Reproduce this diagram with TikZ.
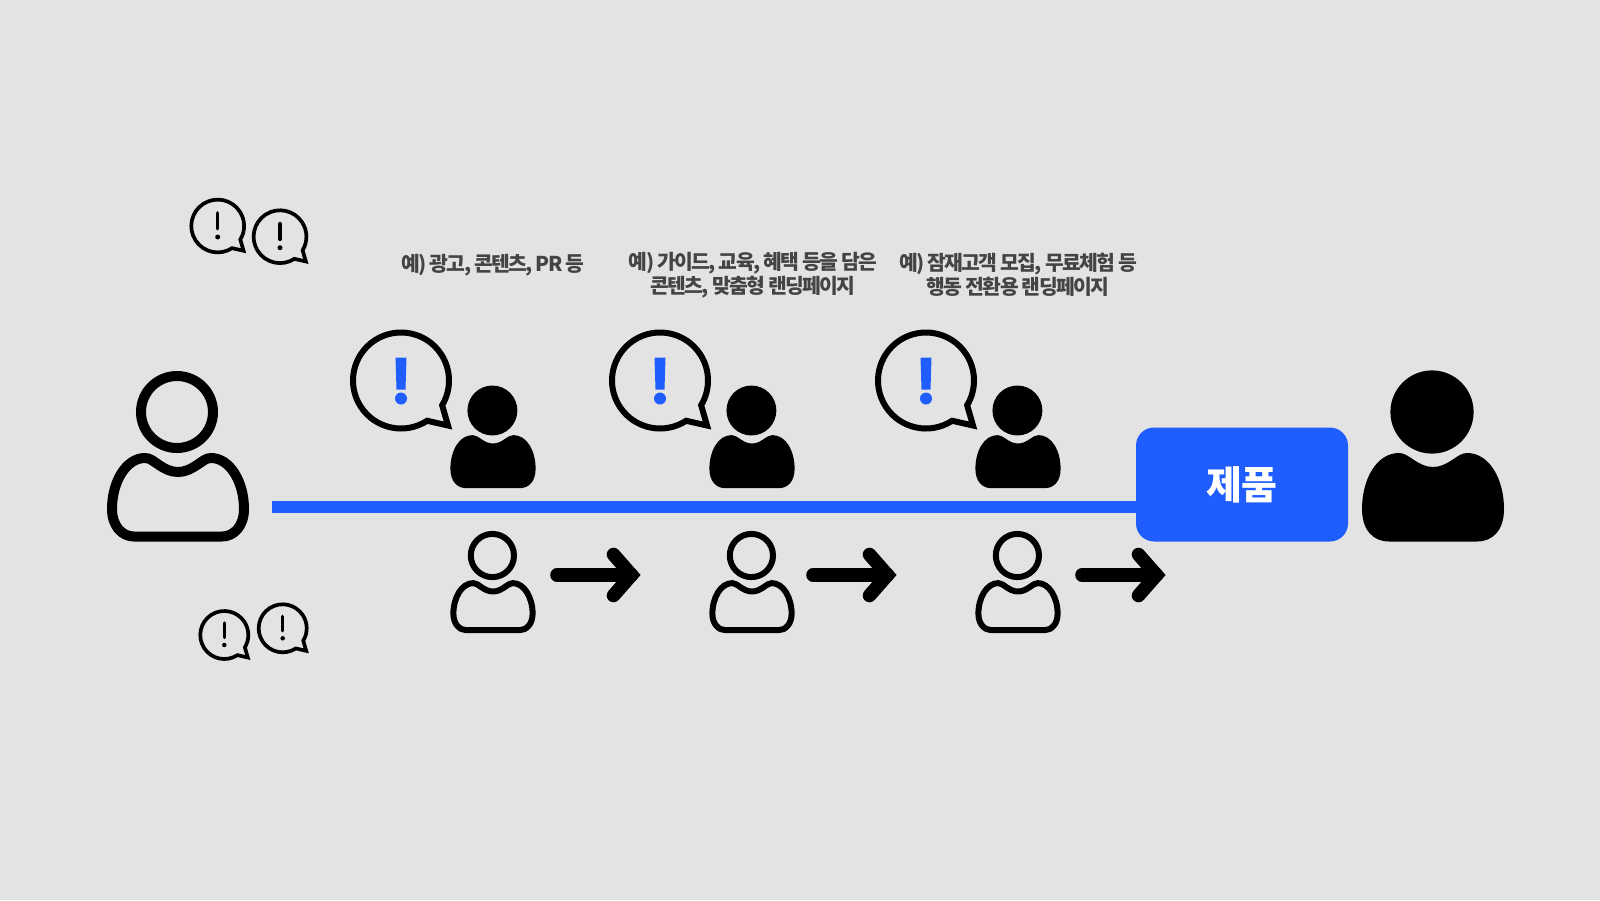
\documentclass[tikz,border=0pt]{standalone}
\usepackage{fontspec}
\newfontfamily\krfont[LetterSpace=-8]{Noto Sans CJK KR}
\newfontfamily\krbox[LetterSpace=-3]{Noto Sans CJK KR}
\definecolor{bgc}{HTML}{E3E3E3}
\definecolor{bluec}{HTML}{1F5DFF}
\definecolor{textc}{HTML}{444444}
\tikzset{
  x=0.5pt,y=-0.5pt,
  pics/bodyfill/.style={code={
    \fill (-1,0) circle (41.6);
    \fill (-34,41) .. controls (-29,41) and (-25,44) .. (-19,48)
      .. controls (-13,52) and (-7,55) .. (0,55)
      .. controls (7,55) and (13,52) .. (19,48)
      .. controls (25,44) and (29,41) .. (34,41)
      .. controls (57,41) and (71,68) .. (71,97)
      .. controls (71,118) and (60,129.5) .. (44,129.5)
      -- (-44,129.5)
      .. controls (-60,129.5) and (-71,118) .. (-71,97)
      .. controls (-71,68) and (-57,41) .. (-34,41) -- cycle;
  }},
  pics/bodyline/.style={code={
    \draw (-1,0) circle (36);
    \draw[line join=round] (-33,46) .. controls (-28,46) and (-25,49) .. (-19,53)
      .. controls (-13,57) and (-7,60) .. (0,60)
      .. controls (7,60) and (13,57) .. (19,53)
      .. controls (25,49) and (28,46) .. (33,46)
      .. controls (52,46) and (66,70) .. (66,97)
      .. controls (66,114) and (56,124.5) .. (44,124.5)
      -- (-44,124.5)
      .. controls (-56,124.5) and (-66,114) .. (-66,97)
      .. controls (-66,70) and (-52,46) .. (-33,46) -- cycle;
  }},
  pics/talk/.style={code={
    \draw[miter limit=10] (57:48) arc[start angle=57,end angle=391,radius=48]
      -- (47,45) -- cycle;
  }},
  pics/markbig/.style={code={
    \fill[bluec] (-5.5,-23) -- (5.5,-23) -- (4.5,9) -- (-4.5,9) -- cycle;
    \fill[bluec] (0,18) circle (6);
  }},
  pics/marksmall/.style={code={
    \draw[line cap=round,line width=1.6pt] (0,-24) -- (0,5);
    \fill (0,20) circle (4.5);
  }},
  lbl/.style={font=\krfont\bfseries\fontsize{10.2}{12.3}\selectfont,text=textc,align=center,inner sep=0pt},
  go/.style={line width=6.8pt,line cap=round,line join=miter},
}
\begin{document}
\begin{tikzpicture}
\useasboundingbox (0,0) rectangle (1600,900);
\fill[bgc] (0,0) rectangle (1600,900);

% large persons
\coordinate (leftperson) at (178,412);
\coordinate (rightperson) at (1433,412);
\pic[line width=5pt] at (leftperson) {bodyline};
\pic at (rightperson) {bodyfill};

% small bubbles
\coordinate (b1) at (217.7,226);
\coordinate (b2) at (280,236.7);
\coordinate (b3) at (224.3,635);
\coordinate (b4) at (282.7,628.3);
\foreach \b/\s in {b1/.55,b2/.55,b3/.5,b4/.5}{
  \pic[scale=\s,line width=1.85pt] at (\b) {talk};
  \pic[scale=\s] at (\b) {marksmall};
}

% three stages
\coordinate (s1) at (493,410.5);
\coordinate (s2) at (752,410.5);
\coordinate (s3) at (1018,410.5);
\coordinate (q1) at (401,380.5);
\coordinate (q2) at (660,380.5);
\coordinate (q3) at (926,380.5);
\coordinate (o1) at (493,555.5);
\coordinate (o2) at (752,555.5);
\coordinate (o3) at (1018,555.5);
\foreach \n in {1,2,3}{
  \pic[scale=.6] at (s\n) {bodyfill};
  \pic[line width=3pt] at (q\n) {talk};
  \pic at (q\n) {markbig};
  \pic[scale=.6,line width=3pt] at (o\n) {bodyline};
}

% blue line and box
\node[fill=bluec,rounded corners=9pt,minimum width=106pt,minimum height=57pt,inner sep=0pt,
  text=white,font=\krbox\bfseries\fontsize{19.5}{22}\selectfont] (box) at (1242,484.5) {\raisebox{-7.5pt}[0pt][0pt]{제품}};
\coordinate (linestart) at (272,507);
\draw[bluec,line width=5.8pt] (linestart) -- (linestart -| box.west);

% arrows
\coordinate (a1s) at (557,575); \coordinate (a1e) at (631.5,575);
\coordinate (a2s) at (813,575); \coordinate (a2e) at (887.5,575);
\coordinate (a3s) at (1082,575); \coordinate (a3e) at (1156.5,575);
\foreach \n in {1,2,3}{
  \draw[go] (a\n s) -- (a\n e);
  \draw[go] ([shift={(-18,-20.5)}]a\n e) -- (a\n e) -- ([shift={(-18,20.5)}]a\n e);
}

% labels
\node[lbl] (t1) at (493,265) {예) 광고, 콘텐츠, PR 등};
\node[lbl] (t2) at (753,275) {예) 가이드, 교육, 혜택 등을 담은\\콘텐츠, 맞춤형 랜딩페이지};
\node[lbl] (t3) at (1018,275) {예) 잠재고객 모집, 무료체험 등\\행동 전환용 랜딩페이지};
\end{tikzpicture}
\end{document}
